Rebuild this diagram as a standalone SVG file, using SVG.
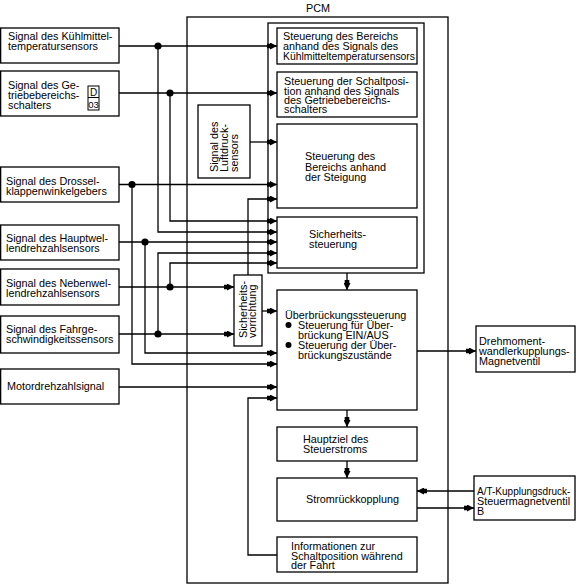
<svg xmlns="http://www.w3.org/2000/svg" width="576" height="585" viewBox="0 0 576 585">
<defs>
<style>
rect.b{fill:#fff;stroke:#000;stroke-width:1.3}
rect.f{fill:none;stroke:#000;stroke-width:1.3}
text{font-family:"Liberation Sans",Arial,sans-serif;font-size:10.8px;fill:#000}
#connectors path{fill:none;stroke:#000;stroke-width:1.3}
#connectors path.a{marker-end:url(#ah)}
circle.j{fill:#000}
</style>
<marker id="ah" markerWidth="10" markerHeight="7" refX="10" refY="3.5" orient="auto" markerUnits="userSpaceOnUse">
<path d="M0,1.2 H3 V0 L10,3.5 L3,7 V5.8 H0 Z" fill="#000"/>
</marker>
</defs>
<rect width="576" height="585" fill="#fff"/>

<g id="pcm">
<rect class="f" x="187" y="17" width="261" height="566"/>
<text x="318" y="12" text-anchor="middle">PCM</text>
</g>
<g id="inner-group">
<rect class="f" x="268" y="23" width="156" height="250"/>
</g>

<g id="connectors">
<path class="a" d="M119,46 H277"/>
<path class="a" d="M158,46 V232 H277"/>
<path class="a" d="M119,93 H277"/>
<path class="a" d="M170,93 V221 H277"/>
<path class="a" d="M250,142 H277"/>
<path class="a" d="M119,184.5 H277"/>
<path class="a" d="M132,184.5 V364 H277"/>
<path class="a" d="M248,275 V199 H277"/>
<path class="a" d="M119,242 H277"/>
<path class="a" d="M145,242 V353 H277"/>
<path class="a" d="M119,287 H234"/>
<path class="a" d="M170,287 V263 H277"/>
<path class="a" d="M119,334 H234"/>
<path class="a" d="M158,334 V253 H277"/>
<path class="a" d="M262,311 H277"/>
<path class="a" d="M119,387 H277"/>
<path class="a" d="M277,555 H248 V398 H277"/>
<path class="a" d="M347,273 V290"/>
<path class="a" d="M347,410 V427"/>
<path class="a" d="M347,461 V478"/>
<path class="a" d="M417,351 H476"/>
<path class="a" d="M474,491 H417"/>
<path class="a" d="M417,508 H474"/>
<circle class="j" cx="158" cy="46" r="3.6"/>
<circle class="j" cx="170" cy="93" r="3.6"/>
<circle class="j" cx="132" cy="184.5" r="3.6"/>
<circle class="j" cx="145" cy="242" r="3.6"/>
<circle class="j" cx="170" cy="287" r="3.6"/>
<circle class="j" cx="158" cy="334" r="3.6"/>
</g>

<g id="in-kuehl">
<rect class="b" x="0.65" y="28" width="118.35" height="35"/>
<text x="8" y="40">Signal des Kühlmittel-</text>
<text x="8" y="50">temperatursensors</text>
</g>
<g id="in-getriebe">
<rect class="b" x="0.65" y="71" width="118.35" height="45"/>
<text x="8" y="89">Signal des Ge-</text>
<text x="8" y="99">triebebereichs-</text>
<text x="8" y="109">schalters</text>
<rect class="f" x="88" y="86" width="11" height="24" style="stroke-width:1"/>
<line x1="88" y1="97.5" x2="99" y2="97.5" stroke="#000" stroke-width="1"/>
<text x="93.5" y="95.5" text-anchor="middle" style="font-size:10px">D</text>
<text x="93.5" y="108" text-anchor="middle" style="font-size:9.5px">03</text>
</g>
<g id="in-drossel">
<rect class="b" x="0.65" y="167" width="118.35" height="35"/>
<text x="6" y="185">Signal des Drossel-</text>
<text x="6" y="195">klappenwinkelgebers</text>
</g>
<g id="in-hauptwelle">
<rect class="b" x="0.65" y="225" width="118.35" height="35"/>
<text x="6" y="242">Signal des Hauptwel-</text>
<text x="6" y="252">lendrehzahlsensors</text>
</g>
<g id="in-nebenwelle">
<rect class="b" x="0.65" y="269" width="118.35" height="36"/>
<text x="6" y="287">Signal des Nebenwel-</text>
<text x="6" y="297">lendrehzahlsensors</text>
</g>
<g id="in-fahrgeschw">
<rect class="b" x="0.65" y="316" width="118.35" height="37"/>
<text x="6" y="333">Signal des Fahrge-</text>
<text x="6" y="343">schwindigkeitssensors</text>
</g>
<g id="in-motor">
<rect class="b" x="0.65" y="369" width="118.35" height="35"/>
<text x="7" y="390">Motordrehzahlsignal</text>
</g>

<g id="box-bereich-kuehl">
<rect class="b" x="277" y="28" width="140" height="36"/>
<text x="283" y="39.5">Steuerung des Bereichs</text>
<text x="283" y="49.5">anhand des Signals des</text>
<text x="283" y="59.5" textLength="132" lengthAdjust="spacingAndGlyphs">Kühlmitteltemperatursensors</text>
</g>
<g id="box-schaltposition">
<rect class="b" x="277" y="72" width="140" height="45"/>
<text x="284" y="85">Steuerung der Schaltposi-</text>
<text x="284" y="94.5">tion anhand des Signals</text>
<text x="284" y="104">des Getriebebereichs-</text>
<text x="284" y="113">schalters</text>
</g>
<g id="box-luftdruck">
<rect class="b" x="198" y="105" width="52" height="73"/>
<text transform="translate(218,172) rotate(-90)">Signal des</text>
<text transform="translate(228,172) rotate(-90)">Luftdruck-</text>
<text transform="translate(238,172) rotate(-90)">sensors</text>
</g>
<g id="box-steigung">
<rect class="b" x="277" y="124" width="140" height="84"/>
<text x="305" y="160">Steuerung des</text>
<text x="305" y="170.5">Bereichs anhand</text>
<text x="305" y="181">der Steigung</text>
</g>
<g id="box-sicherheitssteuerung">
<rect class="b" x="277" y="217" width="140" height="51"/>
<text x="309" y="238">Sicherheits-</text>
<text x="309" y="248">steuerung</text>
</g>
<g id="box-sicherheitsvorrichtung">
<rect class="b" x="234" y="275" width="28" height="71"/>
<text transform="translate(246.5,338) rotate(-90)">Sicherheits-</text>
<text transform="translate(256,338) rotate(-90)">vorrichtung</text>
</g>
<g id="box-ueberbrueckung">
<rect class="b" x="277" y="290" width="140" height="120"/>
<text x="285" y="318.5">Überbrückungssteuerung</text>
<circle cx="288.5" cy="325" r="3" fill="#000"/>
<text x="298" y="328.5">Steuerung für Über-</text>
<text x="298" y="338.5">brückung EIN/AUS</text>
<circle cx="288.5" cy="345" r="3" fill="#000"/>
<text x="298" y="348.5">Steuerung der Über-</text>
<text x="298" y="358.5">brückungszustände</text>
</g>
<g id="box-hauptziel">
<rect class="b" x="277" y="427" width="140" height="34"/>
<text x="303" y="443">Hauptziel des</text>
<text x="303" y="453">Steuerstroms</text>
</g>
<g id="box-stromrueck">
<rect class="b" x="277" y="478" width="140" height="43"/>
<text x="306" y="503">Stromrückkopplung</text>
</g>
<g id="box-informationen">
<rect class="b" x="277" y="537" width="140" height="35"/>
<text x="291" y="550">Informationen zur</text>
<text x="291" y="560">Schaltposition während</text>
<text x="291" y="569">der Fahrt</text>
</g>
<g id="out-drehmoment">
<rect class="b" x="476" y="326" width="99" height="46"/>
<text x="479" y="345">Drehmoment-</text>
<text x="479" y="355">wandlerkupplungs-</text>
<text x="479" y="364.5">Magnetventil</text>
</g>
<g id="out-at">
<rect class="b" x="474" y="476" width="101" height="44"/>
<text x="477" y="495" style="font-size:10px">A/T-Kupplungsdruck-</text>
<text x="477" y="505">Steuermagnetventil</text>
<text x="477" y="515">B</text>
</g>
</svg>
